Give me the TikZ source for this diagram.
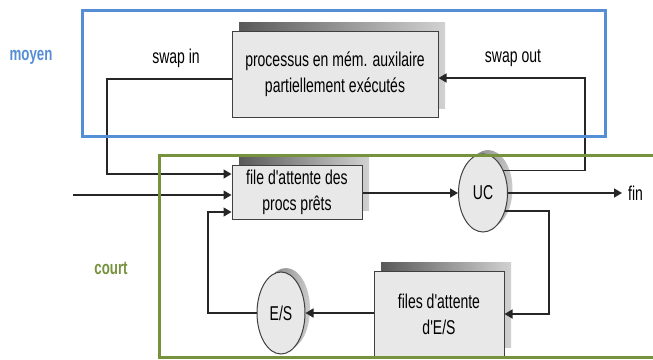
\documentclass[tikz,border=0pt]{standalone}
\usepackage{fontspec}
\setmainfont{Liberation Sans}
\newfontfamily\diagfont{Liberation Sans}[FakeStretch=0.7]
\usepackage{tikz}
\usetikzlibrary{arrows.meta}
\usetikzlibrary{shapes.geometric}
\usetikzlibrary{shadows}
\definecolor{moyenblue}{RGB}{85,142,213}
\definecolor{courtgreen}{RGB}{118,146,60}
\definecolor{queuefill}{RGB}{232,232,232}

\begin{document}
\begin{tikzpicture}[x=1pt, y=-1pt,
        every node/.style={font=\diagfont\fontsize{20}{26}\selectfont},
        queue/.style={draw=black!75, line width=1pt, fill=queuefill, align=center, inner sep=0pt,
            general shadow={shadow xshift=7pt, shadow yshift=9pt, left color=black!65, right color=black!18}},
        proc/.style={ellipse, draw=black!75, line width=1pt, fill=queuefill, inner sep=0pt,
            minimum width=49pt, minimum height=78pt,
            general shadow={shadow xshift=5pt, shadow yshift=4pt, left color=black!55, right color=black!20}},
        flow/.style={line width=1.4pt, black!85, -{Triangle[length=8pt, width=9pt]}},
        frame/.style={line width=3pt}]
        \useasboundingbox (0,0) rectangle (653,359);
        \node[queue, minimum width=206pt, minimum height=86pt] (aux) at (335,74) {processus en mém. auxilaire\\partiellement exécutés};
        \node[queue, minimum width=130pt, minimum height=54pt] (ready) at (297,192) {file d'attente des\\procs prêts};
        \node[queue, minimum width=130pt, minimum height=85pt] (ioqueue) at (439,314) {files d'attente\\d'E/S};
        \node[proc] (uc) at (483,193) {UC};
        \node[proc, minimum width=48pt, minimum height=82pt] (es) at (281,313) {E/S};
        \node (swapin) at (176,58) {swap in};
        \node (swapout) at (513,58) {swap out};
        \node[anchor=west, inner sep=0pt] (fin) at (628,193) {fin};
        \node[moyenblue, font=\diagfont\bfseries\fontsize{19}{22}\selectfont] (moyen) at (31,57) {moyen};
        \node[courtgreen, font=\diagfont\bfseries\fontsize{19}{22}\selectfont] (court) at (111,268) {court};
        \coordinate (inbend) at (107,79);
        \coordinate (intop) at (107,174);
        \coordinate (entree) at (73,195);
        \coordinate (back) at (208,212);
        \coordinate (outbend) at (585,78);
        \coordinate (iobend) at (549,314);
        \draw[flow] (aux.west |- inbend) -- (inbend) -- (intop) -- (ready.west |- intop);
        \draw[flow] (entree) -- (ready.west |- entree);
        \draw[flow] (es.west) -| (back) -- (ready.west |- back);
        \draw[flow] (ready.east |- uc) -- (uc.west);
        \draw[flow, shorten >=6pt] (uc.east) -- (fin.west);
        \draw[flow] (uc.48) -| (outbend) -- (aux.east |- outbend);
        \draw[flow] (uc.-39) -| (iobend) -- (ioqueue.east |- iobend);
        \draw[flow] (ioqueue.west |- es.east) -- (es.east);
        \draw[frame, moyenblue] (82,10) rectangle (605,136);
        \draw[frame, courtgreen] (159,155) rectangle (670,357);
\end{tikzpicture}
\end{document}
